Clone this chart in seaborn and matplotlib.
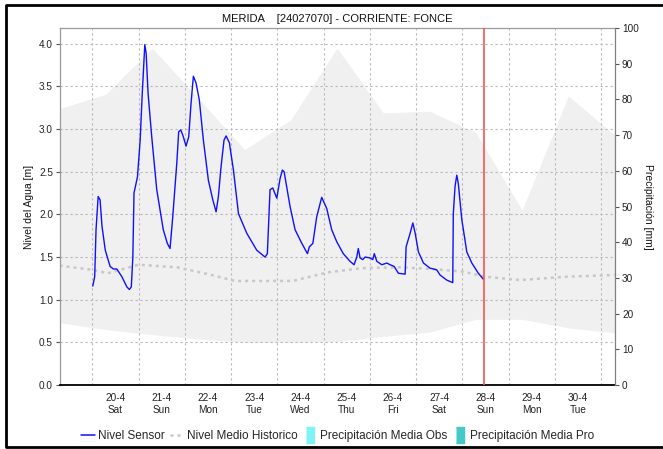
import numpy as np
import pandas as pd
import matplotlib
matplotlib.use("Agg")
import matplotlib.pyplot as plt
import matplotlib.dates as mdates
from matplotlib.lines import Line2D
import seaborn as sns

# ── Data (hours counted from 20-4-2024 00:00) ────────────────────────────────
start_date = "2024-04-20"

sensor_hours = [0.2, 1.2, 1.9, 3.0, 4.0, 5.0, 6.7, 9.2, 10.9, 12.7, 15.3, 17.9,
                19.2, 20.2, 21.0, 21.6, 23.4, 24.8, 25.8, 27.2, 27.9, 28.9, 30.8,
                33.4, 36.8, 38.9, 40.3, 41.7, 43.8, 44.8, 45.9, 47.2, 48.6, 50.0,
                51.2, 52.4, 53.8, 55.5, 57.6, 60.2, 62.5, 64.2, 65.4, 66.6, 68.3,
                69.4, 71.1, 72.0, 73.2, 75.8, 80.1, 85.3, 89.6, 90.8, 92.2, 93.6,
                95.7, 97.4, 98.6, 99.5, 102.6, 105.2, 108.7, 111.6, 112.6, 114.4,
                116.4, 119.0, 121.6, 124.2, 126.8, 130.2, 133.7, 135.8, 137.2,
                138.0, 138.9, 140.3, 141.5, 144.1, 145.5, 146.3, 147.6, 150.2,
                152.8, 154.5, 156.6, 158.8, 162.3, 162.8, 164.9, 166.3, 167.5,
                169.2, 171.8, 175.2, 178.7, 180.4, 183.9, 187.0, 187.3, 188.2,
                189.1, 189.9, 191.7, 194.3, 196.9, 200.3, 202.9]
sensor_level = [1.16, 1.27, 1.82, 2.21, 2.17, 1.86, 1.58, 1.39, 1.36, 1.36, 1.27, 1.15,
                1.12, 1.15, 1.50, 2.25, 2.44, 2.87, 3.38, 3.99, 3.89, 3.42, 2.91,
                2.29, 1.82, 1.66, 1.60, 1.97, 2.60, 2.97, 2.99, 2.91, 2.80, 2.91,
                3.30, 3.62, 3.54, 3.34, 2.87, 2.40, 2.17, 2.03, 2.21, 2.52, 2.87,
                2.92, 2.84, 2.70, 2.52, 2.01, 1.78, 1.58, 1.50, 1.54, 2.29, 2.31,
                2.19, 2.42, 2.52, 2.50, 2.09, 1.82, 1.66, 1.54, 1.62, 1.66,
                1.97, 2.20, 2.07, 1.82, 1.68, 1.54, 1.45, 1.41, 1.50,
                1.60, 1.49, 1.47, 1.50, 1.49, 1.47, 1.54, 1.45, 1.41,
                1.43, 1.41, 1.39, 1.31, 1.30, 1.62, 1.78, 1.90, 1.78,
                1.56, 1.43, 1.37, 1.35, 1.29, 1.23, 1.20, 2.01, 2.33,
                2.46, 2.36, 1.94, 1.56, 1.43, 1.31, 1.24]

hist_hours = [-17, 0, 8, 24, 44, 60, 74, 96, 104, 122, 140, 160, 176, 192, 204, 222, 246, 271]
hist_level = [1.40, 1.35, 1.31, 1.41, 1.38, 1.30, 1.22, 1.22, 1.22, 1.32, 1.37, 1.38,
              1.36, 1.33, 1.27, 1.23, 1.27, 1.29]

band_hours = [-17, 7, 31, 55, 79, 103, 127, 151, 175, 199, 223, 247, 271]
band_upper = [3.24, 3.41, 3.95, 3.36, 2.76, 3.11, 3.95, 3.19, 3.21, 2.96, 2.05, 3.39, 2.93]
band_lower = [0.73, 0.65, 0.59, 0.54, 0.50, 0.50, 0.51, 0.57, 0.62, 0.77, 0.77, 0.67, 0.61]

now_hour = 203.2
x_range_hours = (-16.8, 271.2)
day_count = 11

title = "MERIDA    [24027070] - CORRIENTE: FONCE"


def to_time(hours):
    return pd.Timestamp(start_date) + pd.to_timedelta(np.asarray(hours, dtype=float), unit="h")


sensor = pd.DataFrame({"time": to_time(sensor_hours), "level": sensor_level})
hist = pd.DataFrame({"time": to_time(hist_hours), "level": hist_level})

# ── Figure ───────────────────────────────────────────────────────────────────
sns.set_style("white")
plt.rcParams["font.family"] = ["Liberation Sans", "DejaVu Sans"]

fig = plt.figure(figsize=(6.63, 4.49), dpi=100)
ax = fig.add_axes([0.0905, 0.1425, 0.8371, 0.7951])

ax.fill_between(to_time(band_hours), band_lower, band_upper,
                color="#f0f0f0", linewidth=0, zorder=1)
sns.lineplot(data=hist, x="time", y="level", ax=ax, color="#c8c8c8",
             linewidth=1.8, linestyle=(0, (1.2, 1.6)), estimator=None, zorder=2)
sns.lineplot(data=sensor, x="time", y="level", ax=ax, color="#1010ff",
             linewidth=1.0, estimator=None, zorder=3)
ax.axvline(to_time([now_hour])[0], color="#ff5050", linewidth=1.2, zorder=4)

ax.set_xlim(to_time(x_range_hours))
ax.set_ylim(0, 4.185)
ax.set_yticks(np.arange(0, 4.01, 0.5))
ax.yaxis.set_major_formatter(matplotlib.ticker.FormatStrFormatter("%.1f"))

noon_ticks = to_time(np.arange(day_count) * 24 + 12)
ax.set_xticks(noon_ticks)
ax.xaxis.set_major_formatter(mdates.DateFormatter("%-d-%-m\n%a"))
ax.xaxis.set_minor_locator(mdates.DayLocator())

ax.grid(False)
ax.grid(which="minor", axis="x", color="#b8b8b8", linestyle=(0, (2, 2.5)), linewidth=0.8)
ax.grid(which="major", axis="y", color="#b8b8b8", linestyle=(0, (2, 2.5)), linewidth=0.8)
ax.set_axisbelow("line")

ax.tick_params(axis="x", which="both", length=0, labelsize=7.2, pad=6, colors="#222222")
ax.tick_params(axis="y", length=3, width=0.8, color="#555555", labelsize=7.2,
               pad=2, labelcolor="#222222")
for side in ["left", "top"]:
    ax.spines[side].set_color("#9a9a9a")
    ax.spines[side].set_linewidth(0.9)
ax.spines["right"].set_visible(False)
ax.spines["bottom"].set_color("#000000")
ax.spines["bottom"].set_linestyle((0, (1, 1)))
ax.spines["bottom"].set_linewidth(1.3)

ax.set_xlabel("")
ax.set_ylabel("Nivel del Agua [m]", fontsize=7.5, labelpad=4, color="#111111")
ax.set_title(title, fontsize=8, pad=4, color="#111111")

ax2 = ax.twinx()
ax2.set_ylim(0, 100)
ax2.set_yticks(np.arange(0, 101, 10))
ax2.tick_params(axis="y", length=3, width=0.8, color="#555555", labelsize=7.2,
                pad=2, labelcolor="#222222")
for side in ["left", "top", "bottom"]:
    ax2.spines[side].set_visible(False)
ax2.spines["right"].set_color("#808080")
ax2.spines["right"].set_linewidth(0.9)
ax2.set_ylabel("Precipitación [mm]", fontsize=7.5, rotation=270,
               labelpad=10, color="#111111")

# ── Legend ───────────────────────────────────────────────────────────────────
bar_marker = [(-0.5, -1), (0.5, -1), (0.5, 1), (-0.5, 1)]
handles = [
    Line2D([], [], color="#1010ff", linewidth=1.1),
    Line2D([], [], color="#c8c8c8", linewidth=1.8, linestyle=(0, (1.2, 1.6))),
    Line2D([], [], linestyle="None", marker=bar_marker, markersize=11,
           markerfacecolor="#80f4f4", markeredgecolor="#80f4f4"),
    Line2D([], [], linestyle="None", marker=bar_marker, markersize=11,
           markerfacecolor="#44c8c8", markeredgecolor="#44c8c8"),
]
labels = ["Nivel Sensor", "Nivel Medio Historico",
          "Precipitación Media Obs", "Precipitación Media Pro"]
fig.legend(handles, labels, loc="center", bbox_to_anchor=(0.509, 0.029),
           ncol=4, frameon=False, fontsize=8.5, handlelength=1.2,
           handletextpad=0.25, columnspacing=0.45, borderaxespad=0,
           borderpad=0)

# outer frame: left, top and bottom edges only (right edge is off the image)
frame_x = [1.2, 6 / 663, 6 / 663, 1.2]
frame_y = [1 - 5 / 449, 1 - 5 / 449, 2 / 449, 2 / 449]
fig.add_artist(Line2D(frame_x, frame_y, transform=fig.transFigure,
                      color="#000000", linewidth=2))

fig.savefig("out.png", dpi=100)
